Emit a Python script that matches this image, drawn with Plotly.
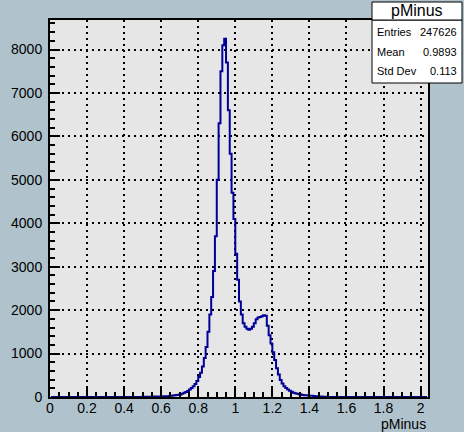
import numpy as np
import plotly.graph_objects as go

# pMinus histogram: 0.01-wide bins, listed from 0.50 upward (all other bins empty)
bin_width = 0.01
first_edge = 0.50
counts = [
    5, 5, 6, 6, 7, 8, 9, 10, 11, 12,                 # 0.50 - 0.59
    14, 16, 18, 20, 24, 28, 33, 38, 45, 52,          # 0.60 - 0.69
    60, 75, 95, 115, 140, 175, 210, 250, 300, 370,   # 0.70 - 0.79
    460, 560, 700, 900, 1150, 1500, 1900, 2300, 2900, 3700,   # 0.80 - 0.89
    5000, 6300, 7500, 8100, 8250, 7700, 6600, 5600, 4700, 4100,  # 0.90 - 0.99
    3300, 2700, 2200, 1900, 1700, 1620, 1570, 1550, 1570, 1620,  # 1.00 - 1.09
    1700, 1790, 1830, 1840, 1860, 1880, 1870, 1640, 1420, 1230,  # 1.10 - 1.19
    1030, 850, 660, 520, 390, 310, 250, 210, 175, 145,           # 1.20 - 1.29
    118, 100, 85, 72, 62, 55, 48, 42, 38, 34,                    # 1.30 - 1.39
    30, 26, 22, 18, 15, 12, 10, 8, 6, 5,                         # 1.40 - 1.49
]
x_min, x_max = 0.0, 2.04

stat_labels = ["Entries", "Mean", "Std Dev"]
stat_values = ["247626", "0.9893", "0.113"]
hist_title = "pMinus"

# full bin grid over the axis range
n_bins = int(round((x_max - x_min) / bin_width))
all_counts = np.zeros(n_bins)
start = int(round((first_edge - x_min) / bin_width))
all_counts[start:start + len(counts)] = counts
centers = x_min + bin_width * (np.arange(n_bins) + 0.5)

fig = go.Figure()
fig.add_trace(go.Scatter(
    x=centers, y=all_counts, mode="lines",
    line=dict(color="#000099", width=2, shape="hvh"),
    hoverinfo="skip", showlegend=False,
))

W, H = 464, 432
ml, mr, mt, mb = 50, 36, 20, 35
pw, ph = W - ml - mr, H - mt - mb


def px(xp):
    return (xp - ml) / pw


def py(yp):
    return (H - mb - yp) / ph


font = "Liberation Sans, Arial, sans-serif"
axis_common = dict(
    showline=True, linecolor="black", linewidth=2, mirror=True,
    ticks="inside", tickcolor="black", tickwidth=2,
    showgrid=True, gridcolor="black", gridwidth=1.5, griddash="2px,4px",
    zeroline=False, tickfont=dict(family=font, size=14, color="black"),
)

fig.update_xaxes(
    range=[x_min, x_max], tick0=0, dtick=0.2, ticklen=10,
    minor=dict(dtick=0.05, ticklen=5, ticks="inside", tickcolor="black",
               tickwidth=2, showgrid=False),
    tickformat="~g", ticklabelstandoff=-3, **axis_common,
)
fig.update_yaxes(
    range=[0, 8680], tick0=0, dtick=1000, ticklen=10,
    minor=dict(dtick=200, ticklen=5, ticks="inside", tickcolor="black",
               tickwidth=2, showgrid=False),
    ticklabelstandoff=3, **axis_common,
)

shapes = []
annotations = []

# x-axis title at the lower right
annotations.append(dict(
    x=px(428), y=py(424), xref="paper", yref="paper", text="pMinus",
    showarrow=False, xanchor="right", yanchor="middle",
    font=dict(family=font, size=14, color="black"),
))

# statistics box and title box
bx0, bx1 = 372, 462
shapes.append(dict(type="rect", xref="paper", yref="paper",
                   x0=px(bx0), x1=px(bx1), y0=py(83), y1=py(20),
                   fillcolor="white", line=dict(color="black", width=1)))
shapes.append(dict(type="rect", xref="paper", yref="paper",
                   x0=px(bx0), x1=px(bx1), y0=py(20), y1=py(2),
                   fillcolor="white", line=dict(color="black", width=1)))
annotations.append(dict(
    x=px((bx0 + bx1) / 2), y=py(11), xref="paper", yref="paper",
    text=hist_title, showarrow=False, xanchor="center", yanchor="middle",
    font=dict(family=font, size=16, color="black"),
))
row_y = [32, 52, 71]
for lab, val, ry in zip(stat_labels, stat_values, row_y):
    annotations.append(dict(
        x=px(bx0 + 3), y=py(ry), xref="paper", yref="paper", text=lab,
        showarrow=False, xanchor="left", yanchor="middle",
        font=dict(family=font, size=11, color="black"),
    ))
    annotations.append(dict(
        x=px(bx1 - 3), y=py(ry), xref="paper", yref="paper", text=val,
        showarrow=False, xanchor="right", yanchor="middle",
        font=dict(family=font, size=11, color="black"),
    ))

fig.update_layout(
    width=W, height=H,
    margin=dict(l=ml, r=mr, t=mt, b=mb, pad=0),
    paper_bgcolor="#b0c3cd", plot_bgcolor="#e6e6e6",
    shapes=shapes, annotations=annotations, showlegend=False,
)

fig.write_html("out.html")
